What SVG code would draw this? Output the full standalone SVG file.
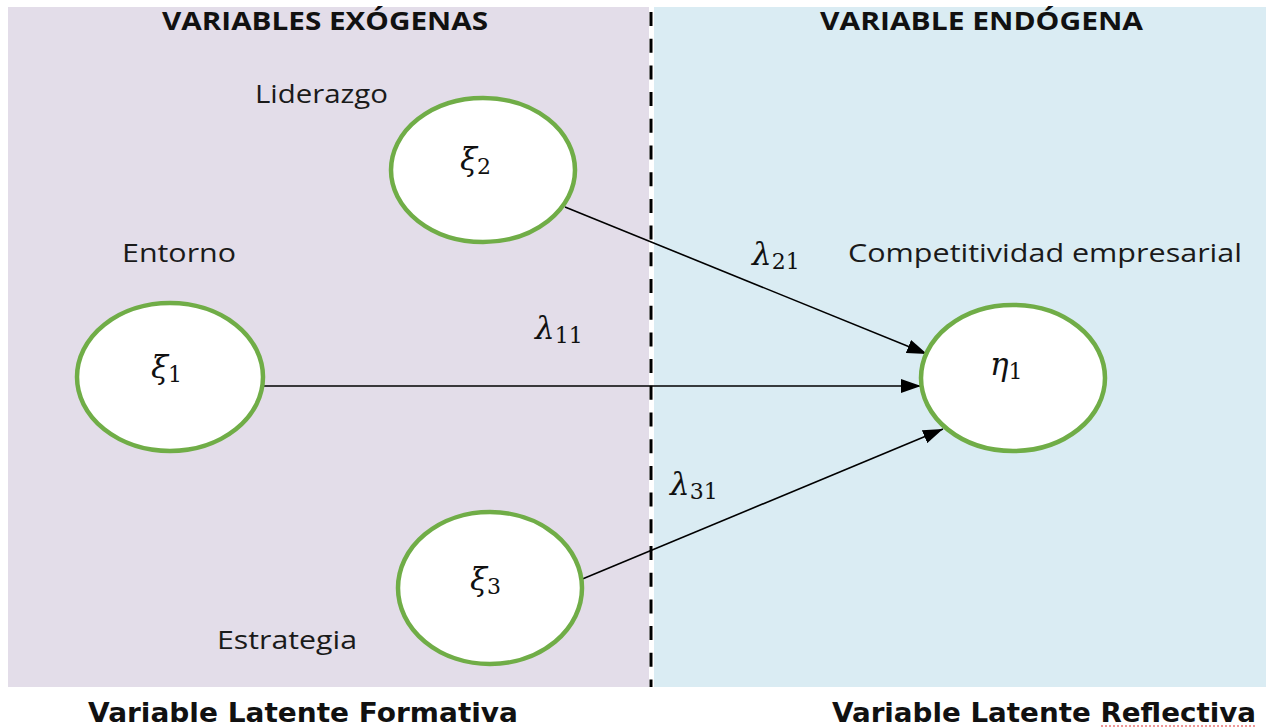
<svg xmlns="http://www.w3.org/2000/svg" width="1266" height="728" viewBox="0 0 1266 728">
<defs>
<marker id="ah" viewBox="0 0 20 14" refX="20" refY="7" markerWidth="20" markerHeight="14" markerUnits="userSpaceOnUse" orient="auto">
<path d="M0,0 L20,7 L0,14 z" fill="#000"/>
</marker>
<style>
.node ellipse{fill:#fff;stroke:#70ad47;stroke-width:4.5}
.lbl{font-family:"Open Sans","Liberation Sans",sans-serif;font-size:25px;fill:#1a1a1a}
.head{font-family:"Open Sans","Liberation Sans",sans-serif;font-size:25px;font-weight:bold;fill:#111}
.foot{font-family:"DejaVu Sans","Liberation Sans",sans-serif;font-size:26px;font-weight:bold;fill:#111}
.math{font-family:"DejaVu Serif","Liberation Serif",serif;font-style:italic;font-size:31px;fill:#111}
.sub{font-style:normal;font-size:22px}
.conn line{stroke:#000;stroke-width:1.6;marker-end:url(#ah)}
</style>
</defs>
<rect x="0" y="0" width="1266" height="728" fill="#fff"/>
<rect x="8" y="7" width="641" height="680" fill="#e3dde9"/>
<rect x="654" y="7" width="612" height="680" fill="#daecf3"/>
<line x1="651" y1="12" x2="651" y2="687" stroke="#000" stroke-width="3" stroke-dasharray="14 12.7"/>
<text class="head" x="162" y="30" textLength="326" lengthAdjust="spacingAndGlyphs">VARIABLES EXÓGENAS</text>
<text class="head" x="820" y="30" textLength="323" lengthAdjust="spacingAndGlyphs">VARIABLE ENDÓGENA</text>
<g class="conn">
<line x1="264" y1="386" x2="921" y2="386"/>
<line x1="565" y1="207" x2="927" y2="354"/>
<line x1="580" y1="580" x2="943" y2="429"/>
</g>
<text class="math" x="752" y="265">λ<tspan class="sub" dy="4">21</tspan></text>
<text class="math" x="535" y="339">λ<tspan class="sub" dy="4">11</tspan></text>
<text class="math" x="670" y="495">λ<tspan class="sub" dy="4">31</tspan></text>
<g id="xi2" class="node">
<ellipse cx="483" cy="170" rx="92" ry="72"/>
<text class="math" x="460" y="170">ξ<tspan class="sub" dy="4">2</tspan></text>
<text class="lbl" x="255" y="103" textLength="133" lengthAdjust="spacingAndGlyphs">Liderazgo</text>
</g>
<g id="xi1" class="node">
<ellipse cx="170" cy="377" rx="93" ry="74"/>
<text class="math" x="151" y="378">ξ<tspan class="sub" dy="4">1</tspan></text>
<text class="lbl" x="122" y="262" textLength="114" lengthAdjust="spacingAndGlyphs">Entorno</text>
</g>
<g id="xi3" class="node">
<ellipse cx="490" cy="588" rx="92" ry="76"/>
<text class="math" x="470" y="590">ξ<tspan class="sub" dy="4">3</tspan></text>
<text class="lbl" x="217" y="649" textLength="140" lengthAdjust="spacingAndGlyphs">Estrategia</text>
</g>
<g id="eta1" class="node">
<ellipse cx="1013" cy="378" rx="92" ry="73"/>
<text class="math" x="990" y="375">η<tspan class="sub" dy="4">1</tspan></text>
<text class="lbl" x="848" y="262" textLength="394" lengthAdjust="spacingAndGlyphs">Competitividad empresarial</text>
</g>
<text class="foot" x="88" y="722" textLength="430" lengthAdjust="spacingAndGlyphs">Variable Latente Formativa</text>
<text class="foot" x="832" y="722" textLength="424" lengthAdjust="spacingAndGlyphs">Variable Latente Reflectiva</text>
<line x1="1101" y1="726" x2="1256" y2="726" stroke="#e03030" stroke-width="1.2" stroke-dasharray="2 2"/>
</svg>
